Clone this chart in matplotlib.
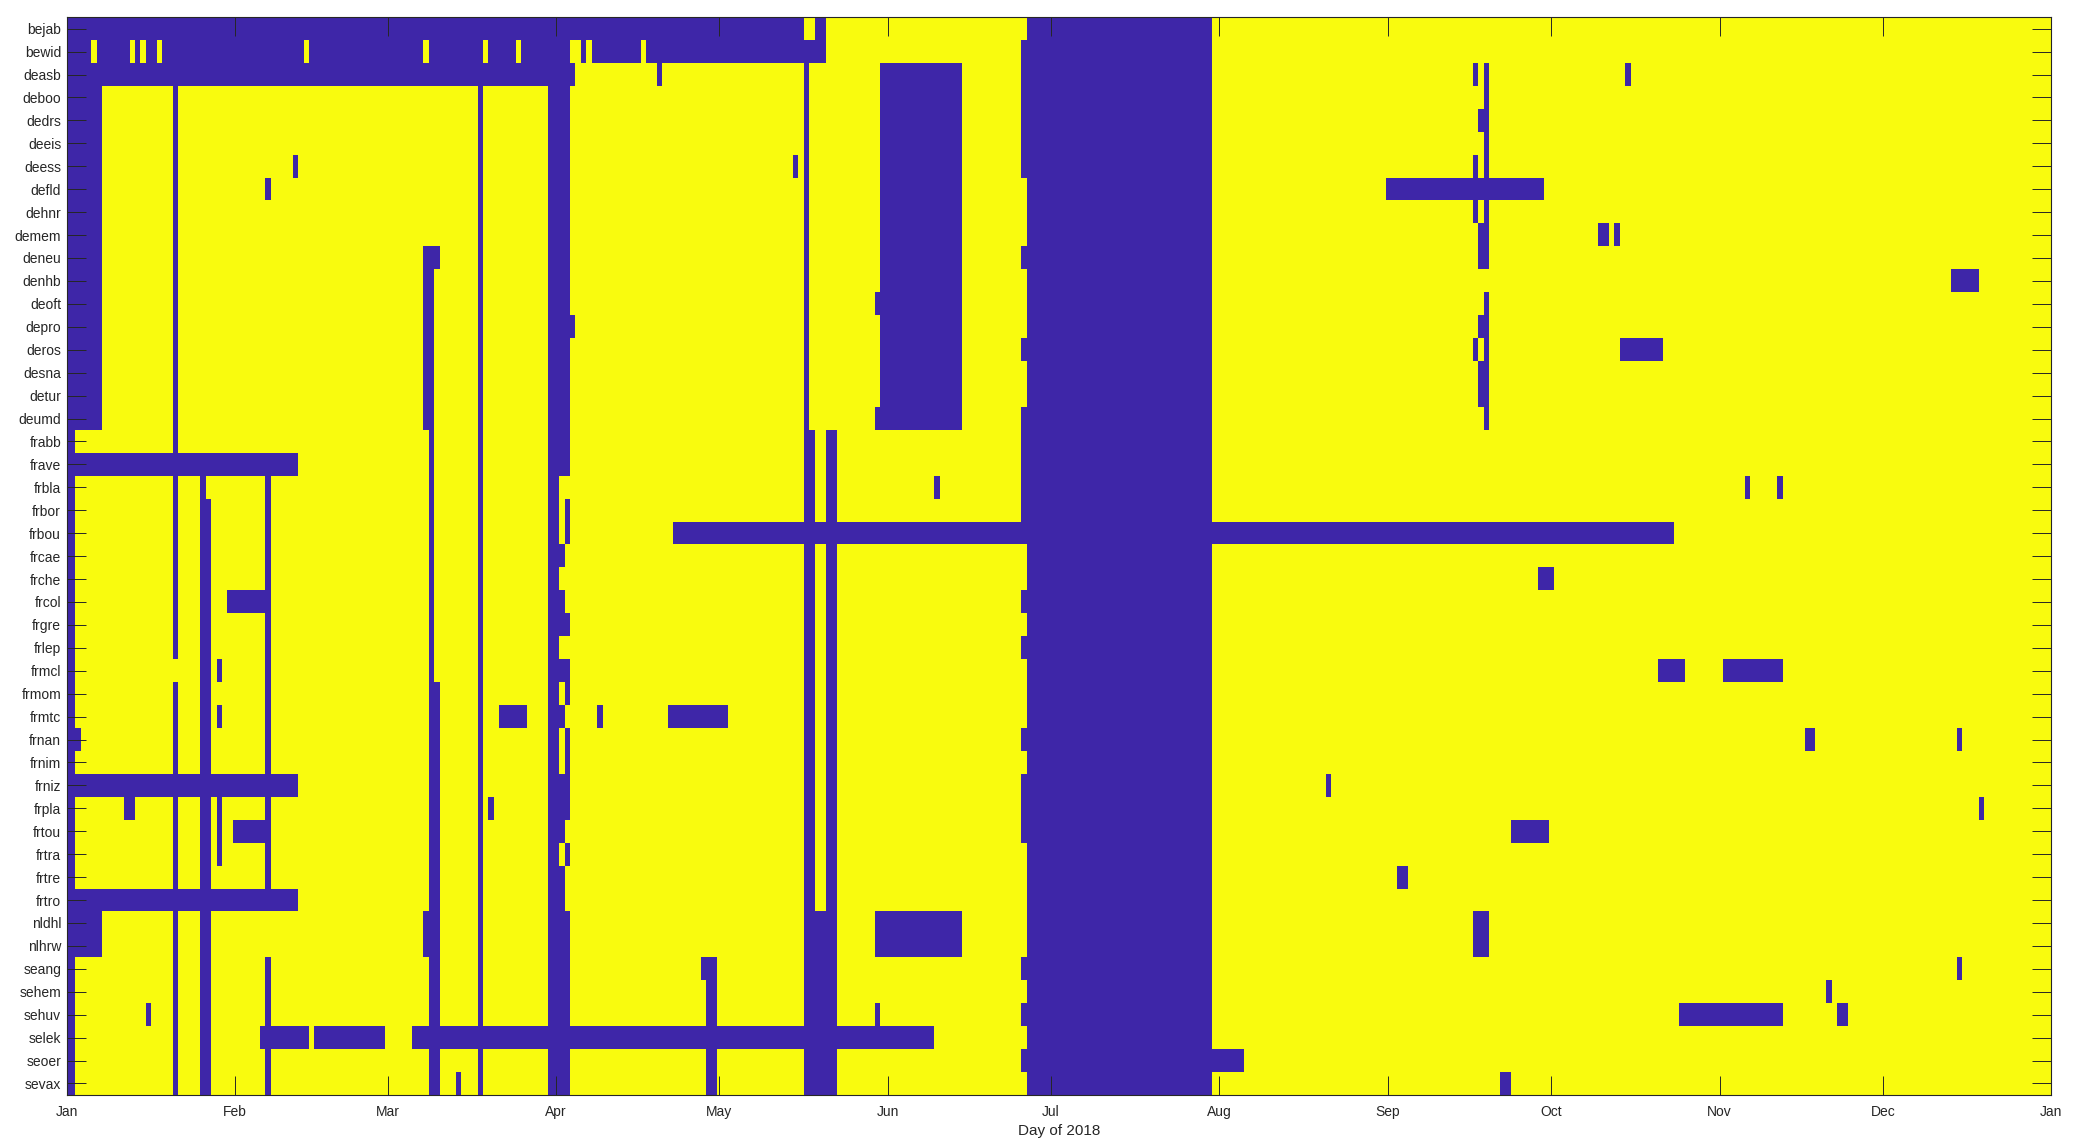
import numpy as np
import matplotlib
matplotlib.use("Agg")
import matplotlib.pyplot as plt
import matplotlib.dates as mdates
from matplotlib.colors import ListedColormap
import pandas as pd

stations = ["bejab", "bewid", "deasb", "deboo", "dedrs", "deeis", "deess", "defld",
            "dehnr", "demem", "deneu", "denhb", "deoft", "depro", "deros", "desna",
            "detur", "deumd", "frabb", "frave", "frbla", "frbor", "frbou", "frcae",
            "frche", "frcol", "frgre", "frlep", "frmcl", "frmom", "frmtc", "frnan",
            "frnim", "frniz", "frpla", "frtou", "frtra", "frtre", "frtro", "nldhl",
            "nlhrw", "seang", "sehem", "sehuv", "selek", "seoer", "sevax"]

# missing days per station, as inclusive ranges of days after 1 Jan 2018
missing = [
    [(0, 135), (138, 139), (177, 210)],
    [(0, 4), (6, 11), (13, 13), (15, 16), (18, 43), (45, 65), (67, 76), (78, 82), (84, 92),
     (95, 95), (97, 105), (107, 139), (176, 210)],
    [(0, 93), (109, 109), (136, 136), (150, 164), (176, 210), (259, 259), (261, 261), (287, 287)],
    [(0, 6), (20, 20), (76, 76), (89, 92), (136, 136), (150, 164), (176, 210), (261, 261)],
    [(0, 6), (20, 20), (76, 76), (89, 92), (136, 136), (150, 164), (176, 210), (260, 261)],
    [(0, 6), (20, 20), (76, 76), (89, 92), (136, 136), (150, 164), (176, 210), (261, 261)],
    [(0, 6), (20, 20), (42, 42), (76, 76), (89, 92), (134, 134), (136, 136), (150, 164),
     (176, 210), (259, 259), (261, 261)],
    [(0, 6), (20, 20), (37, 37), (76, 76), (89, 92), (136, 136), (150, 164), (177, 210), (243, 271)],
    [(0, 6), (20, 20), (76, 76), (89, 92), (136, 136), (150, 164), (177, 210), (259, 259), (261, 261)],
    [(0, 6), (20, 20), (76, 76), (89, 92), (136, 136), (150, 164), (177, 210), (260, 261),
     (282, 283), (285, 285)],
    [(0, 6), (20, 20), (66, 68), (76, 76), (89, 92), (136, 136), (150, 164), (176, 210), (260, 261)],
    [(0, 6), (20, 20), (66, 67), (76, 76), (89, 92), (136, 136), (150, 164), (177, 210), (347, 351)],
    [(0, 6), (20, 20), (66, 67), (76, 76), (89, 92), (136, 136), (149, 164), (177, 210), (261, 261)],
    [(0, 6), (20, 20), (66, 67), (76, 76), (89, 93), (136, 136), (150, 164), (177, 210), (260, 261)],
    [(0, 6), (20, 20), (66, 67), (76, 76), (89, 92), (136, 136), (150, 164), (176, 210), (259, 259),
     (261, 261), (286, 293)],
    [(0, 6), (20, 20), (66, 67), (76, 76), (89, 92), (136, 136), (150, 164), (177, 210), (260, 261)],
    [(0, 6), (20, 20), (66, 67), (76, 76), (89, 92), (136, 136), (150, 164), (177, 210), (260, 261)],
    [(0, 6), (20, 20), (66, 67), (76, 76), (89, 92), (136, 136), (149, 164), (176, 210), (261, 261)],
    [(0, 1), (20, 20), (67, 67), (76, 76), (89, 92), (136, 137), (140, 141), (176, 210)],
    [(0, 42), (67, 67), (76, 76), (89, 92), (136, 137), (140, 141), (176, 210)],
    [(0, 1), (20, 20), (25, 25), (37, 37), (67, 67), (76, 76), (89, 90), (136, 137), (140, 141),
     (160, 160), (176, 210), (309, 309), (315, 315)],
    [(0, 1), (20, 20), (25, 26), (37, 37), (67, 67), (76, 76), (89, 90), (92, 92), (136, 137),
     (140, 141), (176, 210)],
    [(0, 1), (20, 20), (25, 26), (37, 37), (67, 67), (76, 76), (89, 90), (92, 92), (112, 295)],
    [(0, 1), (20, 20), (25, 26), (37, 37), (67, 67), (76, 76), (89, 91), (136, 137), (140, 141), (177, 210)],
    [(0, 1), (20, 20), (25, 26), (37, 37), (67, 67), (76, 76), (89, 90), (136, 137), (140, 141),
     (177, 210), (271, 273)],
    [(0, 1), (20, 20), (25, 26), (30, 37), (67, 67), (76, 76), (89, 91), (136, 137), (140, 141), (176, 210)],
    [(0, 1), (20, 20), (25, 26), (37, 37), (67, 67), (76, 76), (89, 92), (136, 137), (140, 141), (177, 210)],
    [(0, 1), (20, 20), (25, 26), (37, 37), (67, 67), (76, 76), (89, 90), (136, 137), (140, 141), (176, 210)],
    [(0, 1), (25, 26), (28, 28), (37, 37), (67, 67), (76, 76), (89, 92), (136, 137), (140, 141),
     (177, 210), (293, 297), (305, 315)],
    [(0, 1), (20, 20), (25, 26), (37, 37), (67, 68), (76, 76), (89, 90), (92, 92), (136, 137),
     (140, 141), (177, 210)],
    [(0, 1), (20, 20), (25, 26), (28, 28), (37, 37), (67, 68), (76, 76), (80, 84), (89, 91), (98, 98),
     (111, 121), (136, 137), (140, 141), (177, 210)],
    [(0, 2), (20, 20), (25, 26), (37, 37), (67, 68), (76, 76), (89, 90), (92, 92), (136, 137),
     (140, 141), (176, 210), (320, 321), (348, 348)],
    [(0, 1), (20, 20), (25, 26), (37, 37), (67, 68), (76, 76), (89, 90), (92, 92), (136, 137),
     (140, 141), (177, 210)],
    [(0, 42), (67, 68), (76, 76), (89, 92), (136, 137), (140, 141), (176, 210), (232, 232)],
    [(0, 1), (11, 12), (20, 20), (25, 26), (28, 28), (37, 37), (67, 68), (76, 76), (78, 78), (89, 92),
     (136, 137), (140, 141), (176, 210), (352, 352)],
    [(0, 1), (20, 20), (25, 26), (28, 28), (31, 37), (67, 68), (76, 76), (89, 91), (136, 137),
     (140, 141), (176, 210), (266, 272)],
    [(0, 1), (20, 20), (25, 26), (28, 28), (37, 37), (67, 68), (76, 76), (89, 90), (92, 92),
     (136, 137), (140, 141), (177, 210)],
    [(0, 1), (20, 20), (25, 26), (37, 37), (67, 68), (76, 76), (89, 91), (136, 137), (140, 141),
     (177, 210), (245, 246)],
    [(0, 42), (67, 68), (76, 76), (89, 91), (136, 137), (140, 141), (177, 210)],
    [(0, 6), (20, 20), (25, 26), (66, 68), (76, 76), (89, 92), (136, 141), (149, 164), (177, 210), (259, 261)],
    [(0, 6), (20, 20), (25, 26), (66, 68), (76, 76), (89, 92), (136, 141), (149, 164), (177, 210), (259, 261)],
    [(0, 1), (20, 20), (25, 26), (37, 37), (67, 68), (76, 76), (89, 92), (117, 119), (136, 141),
     (176, 210), (348, 348)],
    [(0, 1), (20, 20), (25, 26), (37, 37), (67, 68), (76, 76), (89, 92), (118, 119), (136, 141),
     (177, 210), (324, 324)],
    [(0, 1), (15, 15), (20, 20), (25, 26), (37, 37), (67, 68), (76, 76), (89, 92), (118, 119),
     (136, 141), (149, 149), (176, 210), (297, 315), (326, 327)],
    [(0, 1), (20, 20), (25, 26), (36, 44), (46, 58), (64, 159), (177, 210)],
    [(0, 1), (20, 20), (25, 26), (37, 37), (67, 68), (76, 76), (89, 92), (118, 119), (136, 141), (176, 216)],
    [(0, 1), (20, 20), (25, 26), (37, 37), (67, 68), (72, 72), (76, 76), (89, 92), (118, 119),
     (136, 141), (177, 210), (264, 265)],
]

n_days = 366
month_starts = pd.date_range("2018-01-01", "2019-01-01", freq="MS")
month_labels = [d.strftime("%b") for d in month_starts]

avail = np.ones((len(stations), n_days))
for i, gaps in enumerate(missing):
    for a, b in gaps:
        avail[i, a:b + 1] = 0

plt.rcParams["font.family"] = ["Liberation Sans", "DejaVu Sans"]
txt = "#262626"

fig = plt.figure(figsize=(20.78, 11.48), dpi=100)
ax = fig.add_axes([0.0321, 0.0462, 0.9551, 0.9388])

t0 = mdates.date2num(month_starts[0])
cmap = ListedColormap(["#3e26a8", "#f9fb0e"])
ax.imshow(avail, aspect="auto", cmap=cmap, vmin=0, vmax=1, interpolation="nearest",
          extent=(t0 - 0.5, t0 + n_days - 0.5, len(stations) - 0.5, -0.5))

ax.set_xlim(t0, mdates.date2num(month_starts[-1]))
ax.set_ylim(len(stations) - 0.5, -0.5)
ax.set_xticks(mdates.date2num(month_starts))
ax.set_xticklabels(month_labels)
ax.set_yticks(range(len(stations)))
ax.set_yticklabels(stations)

ax.tick_params(direction="in", length=13.5, width=0.7, color=txt, labelcolor=txt,
               labelsize=10, top=True, right=True)
ax.tick_params(axis="x", pad=7)
ax.tick_params(axis="y", pad=4)
for s in ax.spines.values():
    s.set_color(txt)
    s.set_linewidth(0.8)

ax.set_xlabel("Day of 2018", fontsize=11, color=txt, labelpad=4)

fig.savefig("out.png", dpi=100)
